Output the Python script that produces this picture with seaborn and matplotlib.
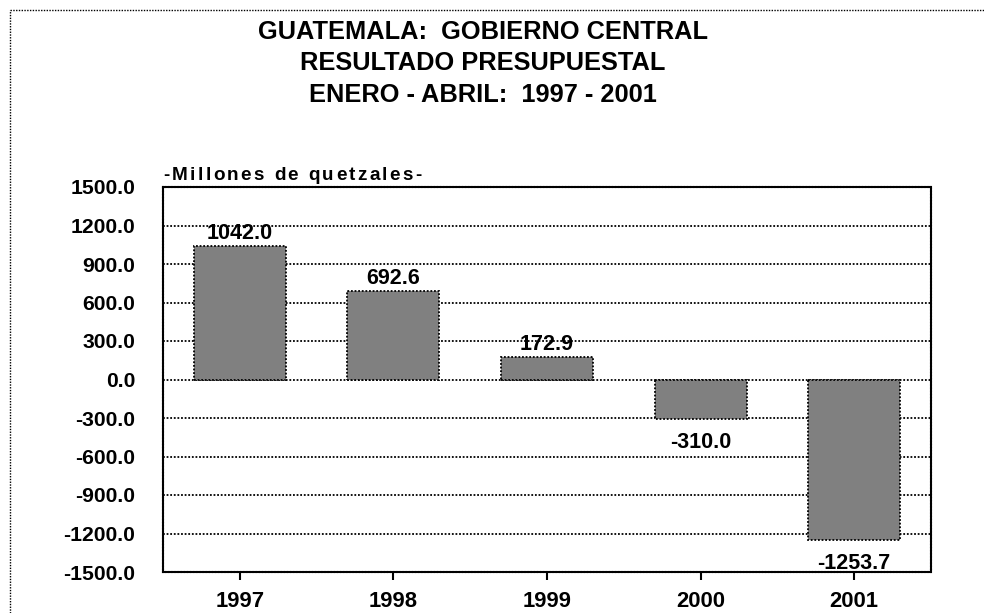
import matplotlib
matplotlib.use("Agg")
import matplotlib.pyplot as plt
import seaborn as sns
import pandas as pd
from matplotlib.lines import Line2D

years = ["1997", "1998", "1999", "2000", "2001"]
values = [1042.0, 692.6, 172.9, -310.0, -1253.7]
yticks = [1500, 1200, 900, 600, 300, 0, -300, -600, -900, -1200, -1500]
title_lines = ["GUATEMALA:  GOBIERNO CENTRAL", "RESULTADO PRESUPUESTAL", "ENERO - ABRIL:  1997 - 2001"]
unit_label = "-Millones de quetzales-"

sns.set_theme(style="white")
plt.rcParams['font.family'] = ['Liberation Sans', 'DejaVu Sans']
plt.rcParams['font.weight'] = 'bold'
plt.rcParams['text.color'] = 'black'
plt.rcParams['xtick.color'] = 'black'
plt.rcParams['ytick.color'] = 'black'
plt.rcParams['xtick.labelcolor'] = 'black'
plt.rcParams['ytick.labelcolor'] = 'black'

df = pd.DataFrame({"year": years, "value": values})

fig = plt.figure(figsize=(9.84, 6.13), dpi=100)
ax = fig.add_axes([163/984, 41/613, 768/984, 385/613])

ax.set_ylim(-1500, 1500)
ax.set_yticks(yticks)
ax.set_yticklabels([f"{t:.1f}" for t in yticks], fontsize=15.2, fontweight='bold', color='black')
for t in yticks[1:-1]:
    ax.axhline(t, color='black', linestyle=(0, (1, 1)), linewidth=1.3, zorder=1)

sns.barplot(data=df, x="year", y="value", color="#808080", width=0.6,
            saturation=1, ax=ax, zorder=3, edgecolor='black', linewidth=1.3,
            linestyle=(0, (1, 1)))

for p, v in zip(ax.patches, values):
    x = p.get_x() + p.get_width() / 2
    if v >= 0:
        ax.annotate(f"{v:.1f}", (x, v), xytext=(0, 5), textcoords='offset points',
                    ha='center', va='baseline', fontsize=15.5, fontweight='bold', color='black', zorder=5)
    else:
        ax.annotate(f"{v:.1f}", (x, v), xytext=(0, -9), textcoords='offset points',
                    ha='center', va='top', fontsize=15.5, fontweight='bold', color='black', zorder=5)

ax.set_xlabel("")
ax.set_ylabel("")
ax.set_xlim(-0.5, len(years) - 0.5)
ax.tick_params(axis='y', length=0, pad=20)
ax.tick_params(axis='x', length=6, width=1.5, direction='out', color='black', pad=8, bottom=True)
for lbl in ax.get_xticklabels():
    lbl.set_fontsize(15.8)
    lbl.set_fontweight('bold')
    lbl.set_color('black')

for s in ax.spines.values():
    s.set_color('black')
    s.set_linewidth(1.5)
    s.set_linestyle((0, (1, 0.5)))
    s.set_visible(True)

# unit label with slightly wide letter spacing, drawn character by character
fig.canvas.draw()
renderer = fig.canvas.get_renderer()
ufs = 13.6
extra_px = 2.35
xpix = 163.0
ypix = 613 - 180.0
for ch in unit_label:
    t = fig.text(xpix / 984, ypix / 613, ch, ha='left', va='baseline',
                 fontsize=ufs, fontweight='bold', color='black')
    if ch == ' ':
        w = fig.dpi / 72 * ufs * 0.278
    else:
        w = t.get_window_extent(renderer=renderer).width
    xpix += w + extra_px

ys = [1 - 32/613, 1 - 63/613, 1 - 95/613]
for line, y in zip(title_lines, ys):
    fig.text(483/984, y, line, ha='center', va='center', fontsize=18.3, fontweight='bold', color='black')

# outer dotted frame
x0, y0 = 10/984, 1 - 10/613
fig.add_artist(Line2D([x0, 1.0], [y0, y0], transform=fig.transFigure, color='black',
                      linestyle=(0, (1, 1)), linewidth=1))
fig.add_artist(Line2D([x0, x0], [0, y0], transform=fig.transFigure, color='black',
                      linestyle=(0, (1, 1)), linewidth=1))

fig.savefig("out.png", dpi=100)
